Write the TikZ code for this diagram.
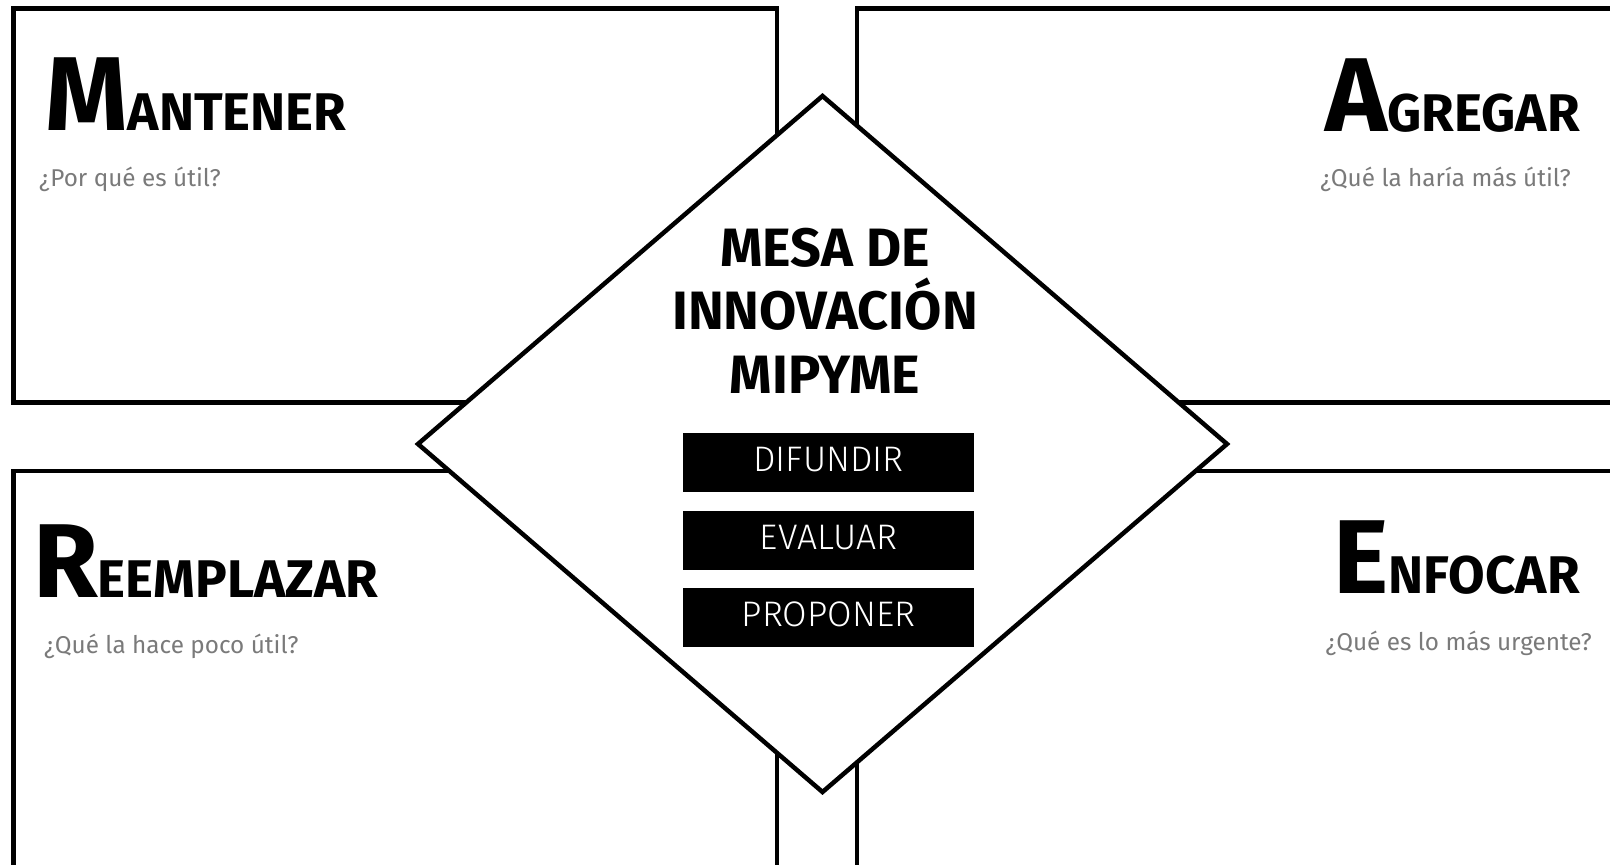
\documentclass[tikz,border=0pt]{standalone}
\usepackage{fontspec}
\setmainfont{Fira Sans}
\newfontfamily\lightfont{Fira Sans Light}
\definecolor{subgrey}{HTML}{7A7A7A}
\tikzset{
  frame/.style={draw=black,line width=4.5pt,line join=miter},
  bigletter/.style={inner sep=0pt,font=\bfseries},
  subq/.style={inner sep=0pt,text=subgrey,font=\fontsize{24.3}{24.3}\selectfont},
  titletext/.style={inner sep=0pt,font=\bfseries\fontsize{54}{54}\selectfont},
  actbox/.style={fill=black,minimum width=291pt,minimum height=59pt,inner sep=0pt},
  acttext/.style={text=white,inner sep=0pt,font=\lightfont\fontsize{35.5}{35.5}\selectfont}
}
\newcommand{\headword}[2]{{\fontsize{105}{105}\selectfont #1}{\fontsize{53}{53}\selectfont #2}}
\begin{document}
\begin{tikzpicture}[x=1pt,y=-1pt]
\useasboundingbox (0,0) rectangle (1610,865);
\clip (0,0) rectangle (1610,865);
\fill[white] (0,0) rectangle (1610,865);
% four panels
\draw[frame] (13.5,8.5) rectangle (777,402.5);
\draw[frame] (857,8.5) rectangle (1630,402.5);
\draw[frame] (13.5,471) rectangle (777,890);
\draw[frame] (857,471) rectangle (1630,890);
% diamond
\draw[frame,fill=white] (822.5,96) -- (1227,444) -- (822.5,792) -- (418,444) -- cycle;
% headings
\node[bigletter,anchor=base west] (hM) at (45,130) {\headword{M}{ANTENER}};
\node[subq,anchor=base west] (qM) at (39,186) {¿Por qué es útil?};
\node[bigletter,anchor=base east] (hA) at (1580,131) {\headword{A}{GREGAR}};
\node[subq,anchor=base east] (qA) at (1571,186) {¿Qué la haría más útil?};
\node[bigletter,anchor=base west] (hR) at (33,597) {\headword{R}{EEMPLAZAR}};
\node[subq,anchor=base west] (qR) at (44,653) {¿Qué la hace poco útil?};
\node[bigletter,anchor=base east] (hE) at (1580,593) {\headword{E}{NFOCAR}};
\node[subq,anchor=base east] (qE) at (1592,650) {¿Qué es lo más urgente?};
% title
\node[titletext,anchor=base] (t1) at (825,266) {MESA DE};
\node[titletext,anchor=base] (t2) at (825,329) {INNOVACIÓN};
\node[titletext,anchor=base] (t3) at (825,393) {MIPYME};
% action boxes
\node[actbox] (b1) at (828.5,462.5) {};
\node[actbox] (b2) at (828.5,540.5) {};
\node[actbox] (b3) at (828.5,617.5) {};
\node[acttext] (b1t) at ([yshift=3pt]b1.center) {DIFUNDIR};
\node[acttext] (b2t) at ([yshift=3pt]b2.center) {EVALUAR};
\node[acttext] (b3t) at ([yshift=3pt]b3.center) {PROPONER};
\end{tikzpicture}
\end{document}
